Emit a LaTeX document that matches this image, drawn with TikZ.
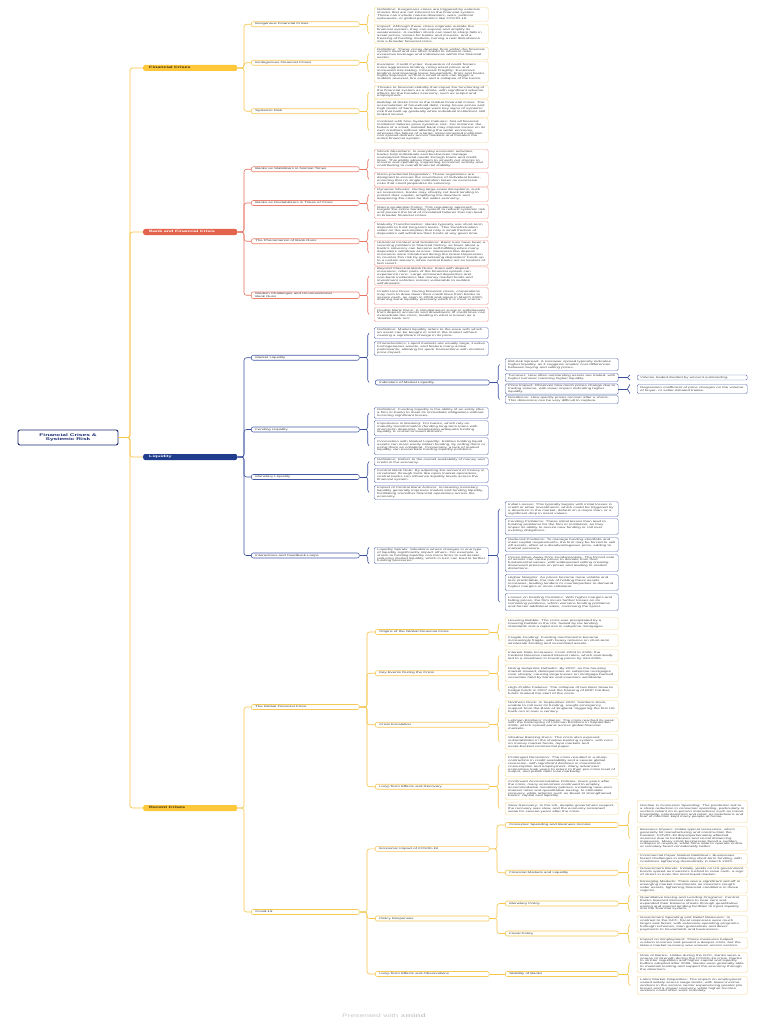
\documentclass[tikz,border=0pt]{standalone}
\usepackage{fontspec}
\setmainfont{Liberation Sans}
\usetikzlibrary{decorations.pathreplacing}
\definecolor{ybar}{HTML}{FFC83A}
\definecolor{ybartxt}{HTML}{3A2E10}
\definecolor{yline}{HTML}{F7C548}
\definecolor{ybox}{HTML}{F5C955}
\definecolor{yleaf}{HTML}{F8DA8E}
\definecolor{rbar}{HTML}{E4634C}
\definecolor{rline}{HTML}{E8735F}
\definecolor{rbox}{HTML}{EA7E6D}
\definecolor{rleaf}{HTML}{EE9C8F}
\definecolor{nbar}{HTML}{1F3D8C}
\definecolor{nline}{HTML}{3B519F}
\definecolor{nbox}{HTML}{4558A6}
\definecolor{nleaf}{HTML}{6272B4}
\definecolor{rootc}{HTML}{1A2B73}
\definecolor{leaftxt}{HTML}{444444}
\definecolor{labtxt}{HTML}{333333}
\definecolor{footc}{HTML}{C8C8C8}
\newcommand\Lf[2]{\scalebox{1}[0.58]{\parbox{#1pt}{\raggedright\fontsize{4.3pt}{5pt}\selectfont #2}}}
\newcommand\Bt[1]{\scalebox{1}[0.58]{\parbox{82pt}{\bfseries\fontsize{5.4pt}{6pt}\selectfont #1}}}
\newcommand\brc[5]{%
  \draw[#1,decorate,decoration={brace,amplitude=2.5pt}] (B#5 |- #4.center) -- (B#5 |- #3.center);
  \draw[#1] (#2.east) -- (T#5 |- #2.east);}
\newcommand\brs[4]{%
  \draw[#1,decorate,decoration={brace,amplitude=2.5pt}] (B#4 |- #3.south) -- (B#4 |- #3.north);
  \draw[#1] (#2.east) -- (T#4 |- #2.east);}
\newcommand\elb[4]{%
  \draw[#1,rounded corners=2.5pt] (#2.east) -- (E#4 |- #2.east) |- (#3.west);}
\begin{document}
\begin{tikzpicture}[x=1pt,y=-1pt,
  leaf/.style={rectangle,rounded corners=1.3pt,fill=white,line width=0.45pt,inner xsep=3pt,inner ysep=1pt,anchor=west,text=leaftxt},
  lY/.style={leaf,draw=yleaf},
  lR/.style={leaf,draw=rleaf},
  lN/.style={leaf,draw=nleaf},
  lab/.style={rectangle,rounded corners=2pt,fill=white,line width=0.55pt,inner xsep=4pt,inner ysep=0.9pt,anchor=west,text=labtxt,minimum height=5pt},
  bY/.style={lab,draw=ybox},
  bR/.style={lab,draw=rbox},
  bN/.style={lab,draw=nbox},
  bar/.style={rectangle,rounded corners=2pt,anchor=west,minimum height=6pt,inner xsep=6pt,inner ysep=0.5pt},
  rootbox/.style={rectangle,draw=rootc,line width=0.9pt,rounded corners=2pt,fill=white,minimum width=100pt,minimum height=15pt,inner sep=1pt,text=rootc},
  cY/.style={yline,line width=0.6pt},
  cR/.style={rline,line width=0.6pt},
  cN/.style={nline,line width=0.6pt},
  trk/.style={yline,line width=0.7pt}]
\useasboundingbox[fill=white] (0,0) rectangle (768,1024);
\coordinate (E0) at (130,0);
\coordinate (E1) at (244,0);
\coordinate (E2) at (367,0);
\coordinate (E3) at (497,0);
\coordinate (B2) at (369,0);
\coordinate (T2) at (366.5,0);
\coordinate (B3) at (499.5,0);
\coordinate (T3) at (497,0);
\coordinate (B4) at (630,0);
\coordinate (T4) at (627.5,0);

% root
\node[rootbox] (root) at (68,437.5) {\scalebox{1}[0.58]{\parbox{92pt}{\centering\bfseries\fontsize{6.6pt}{7.6pt}\selectfont Financial Crises \&\\Systemic Risk}}};

% main topics
\node[bar,fill=ybar,text=ybartxt] (fc) at (143,68) {\Bt{Financial Crises}};
\node[bar,fill=rbar,text=white] (bk) at (143,232) {\Bt{Bank and Financial Crisis}};
\node[bar,fill=nbar,text=white] (lq) at (143,457) {\Bt{Liquidity}};
\node[bar,fill=ybar,text=ybartxt] (rc) at (143,808) {\Bt{Recent Crises}};

% level 2
\node[bY] (ex) at (251,24.25) {\Lf{100}{Exogenous Financial Crises}};
\node[bY] (en) at (251,62.75) {\Lf{100}{Endogenous Financial Crises}};
\node[bY] (sy) at (251,111.25) {\Lf{100}{Systemic Risk}};
\node[bR] (bs) at (251,169.25) {\Lf{100}{Banks as Stabilizers in Normal Times}};
\node[bR] (bd) at (251,203) {\Lf{100}{Banks as Destabilizers in Times of Crisis}};
\node[bR] (br) at (251,241.25) {\Lf{100}{The Phenomenon of Bank Runs}};
\node[bR] (bm) at (251,295.25) {\Lf{100}{Modern Challenges and Unconventional\\Bank Runs}};
\node[bN] (ml) at (251,357.75) {\Lf{100}{Market Liquidity}};
\node[bN] (fl) at (251,429.5) {\Lf{100}{Funding Liquidity}};
\node[bN] (mo) at (251,477) {\Lf{100}{Monetary Liquidity}};
\node[bN] (ia) at (251,555.5) {\Lf{100}{Interactions and Feedback Loops}};
\node[bY] (gfc) at (251,707) {\Lf{100}{The Global Financial Crisis}};
\node[bY] (cov) at (251,912) {\Lf{100}{Covid-19}};

% Financial crises leaves
\node[lY,minimum height=14pt] (ex1) at (374,14.5) {\Lf{108}{Definition: Exogenous crises are triggered by external shocks that are not inherent to the financial system. These can include natural disasters, wars, political upheavals, or global pandemics like COVID-19.}};
\node[lY,minimum height=19pt] (ex2) at (374,34) {\Lf{108}{Impact: Although these crises originate outside the financial system, they can expose and amplify its weaknesses. A sudden shock can lead to sharp falls in asset prices, losses for banks and insurers, and a freezing of funding markets, turning a real disturbance into a broader financial crisis.}};
\node[lY,minimum height=12pt] (en1) at (374,53.5) {\Lf{108}{Definition: These crises develop from within the financial system itself and are often linked to inherent risks, excessive leverage and imbalances within the financial sector.}};
\node[lY,minimum height=21pt] (en2) at (374,72) {\Lf{108}{Example: Credit Cycles: Expansion of credit fosters more aggressive lending, rising asset prices and increased risk-taking. Financial Fragility: Excessive lending and leverage leave households, firms and banks highly exposed, so that a small shock can trigger a sudden reversal, fire sales and a collapse of the boom.}};
\node[lY,minimum height=13pt] (sy1) at (374,92) {\Lf{108}{Threats to financial stability that impair the functioning of the financial system as a whole, with significant adverse effects for the broader economy, such as output and employment.}};
\node[lY,minimum height=18pt] (sy2) at (374,108.5) {\Lf{108}{Buildup of Risks Prior to the Global Financial Crisis: The accumulation of household debt, rising house prices and high levels of bank leverage were key signs of systemic risk that built up gradually while individual institutions still looked sound.}};
\node[lY,minimum height=24pt] (sy3) at (374,130.5) {\Lf{108}{Contrast with Non-Systemic Failures: Not all financial institution failures pose systemic risk. For instance, the failure of a small, isolated bank may impose losses on its own creditors without affecting the wider economy, whereas the failure of a large, interconnected institution can spread distress across markets and threaten the entire financial system.}};

% Bank leaves
\node[lR,minimum height=19pt] (bs1) at (374,159) {\Lf{108}{Shock Absorbers: In everyday economic activities, banks help individuals and businesses manage unexpected financial needs through loans and credit lines. This ability allows them to smooth out shocks to income and spending, supporting economic activity and contributing to overall financial stability.}};
\node[lR,minimum height=14pt] (bs2) at (374,179.5) {\Lf{108}{Micro-prudential Regulation: These regulations are designed to ensure the soundness of individual banks, ensuring that no single institution takes on excessive risks that could jeopardize its solvency.}};
\node[lR,minimum height=14pt] (bd1) at (374,194.5) {\Lf{108}{Dynamic Shocks: During large-scale disruptions, such as recessions, banks may sharply cut back lending to protect their capital, amplifying the downturn and deepening the crisis for the wider economy.}};
\node[lR,minimum height=14pt] (bd2) at (374,211.5) {\Lf{108}{Macro-prudential Policy: This regulatory approach targets the entire banking system to reduce systemic risk and prevent the kind of correlated failures that can lead to broader financial crises.}};
\node[lR,minimum height=16pt] (br1) at (374,229.5) {\Lf{108}{Maturity Transformation: Banks typically use short-term deposits to fund long-term loans. This transformation relies on the assumption that only a small fraction of depositors will withdraw their funds at any given time.}};
\node[lR,minimum height=25pt] (br2) at (374,253) {\Lf{108}{Historical Context and Solutions: Bank runs have been a recurring problem in financial history, as fears about a bank's solvency can become self-fulfilling when many depositors withdraw at once. Measures like deposit insurance were introduced during the Great Depression to counter this risk by guaranteeing depositors' funds up to a certain amount, while central banks act as lenders of last resort.}};
\node[lR,minimum height=17pt] (bm1) at (374,276) {\Lf{108}{Beyond Classical Bank Runs: Even with deposit insurance, other parts of the financial system can experience runs. Large uninsured depositors and non-bank institutions like money market funds and investment vehicles remain vulnerable to sudden withdrawals.}};
\node[lR,minimum height=17pt] (bm2) at (374,296) {\Lf{108}{Credit Line Runs: During financial crises, corporations may rush to draw down their credit lines from banks to secure cash, as seen in 2008 and again in March 2020, draining bank liquidity precisely when it is most scarce.}};
\node[lR,minimum height=14pt] (bm3) at (374,314.5) {\Lf{108}{Double Bank Runs: A simultaneous surge in withdrawals from deposit accounts and drawdowns of credit lines can exacerbate the crisis, leading to what is known as a `double bank run'.}};

% Liquidity leaves
\node[lN,minimum height=11pt] (ml1) at (374,333) {\Lf{108}{Definition: Market liquidity refers to the ease with which an asset can be bought or sold in the market without causing a significant change in its price.}};
\node[lN,minimum height=14pt] (ml2) at (374,348.5) {\Lf{108}{Characteristics: Liquid markets are usually large, involve homogeneous assets, and feature many active participants, allowing for quick transactions with minimal price impact.}};
\node[bN] (ind) at (375,382.5) {\Lf{106}{Indicators of Market Liquidity}};
\node[lN,minimum height=12pt] (ib) at (505,364.5) {\Lf{107}{Bid-Ask Spread: A narrower spread typically indicates higher liquidity, as it suggests smaller cost differences between buying and selling prices.}};
\node[lN,minimum height=8pt] (it) at (505,377.5) {\Lf{107}{Turnover: How often outstanding assets are traded, with higher turnover meaning higher liquidity.}};
\node[lN,minimum height=9pt] (ip) at (505,389) {\Lf{107}{Price Impact: Observes how much prices change due to trading volume, with lower impact indicating higher liquidity.}};
\node[lN,minimum height=8pt] (iav) at (505,399.5) {\Lf{107}{Resilience: How quickly prices recover after a shock. This dimension can be very difficult to capture.}};
\node[lN,minimum height=5pt] (it1) at (637,377.5) {\Lf{104}{Volume traded divided by amount outstanding.}};
\node[lN,minimum height=9pt] (ip1) at (637,389) {\Lf{104}{Regression coefficient of price changes on the volume of buyer- or seller-initiated trades.}};
\node[lN,minimum height=11pt] (fl1) at (374,413) {\Lf{108}{Definition: Funding liquidity is the ability of an entity (like a firm or bank) to meet its immediate obligations without incurring significant losses.}};
\node[lN,minimum height=15pt] (fl2) at (374,428) {\Lf{108}{Importance in Banking: For banks, which rely on maturity transformation (funding long-term loans with short-term deposits), maintaining adequate funding liquidity is crucial to avoid distress.}};
\node[lN,minimum height=17pt] (fl3) at (374,446) {\Lf{108}{Connection with Market Liquidity: Entities holding liquid assets can more easily obtain funding, by selling them or using them as collateral. Conversely, a lack of market liquidity can exacerbate funding liquidity problems.}};
\node[lN,minimum height=8pt] (mo1) at (374,461.5) {\Lf{108}{Definition: Refers to the overall availability of money and credit in the economy.}};
\node[lN,minimum height=14pt] (mo2) at (374,475.5) {\Lf{108}{Central Bank Role: By adjusting the amount of money in circulation through tools like open market operations, central banks can influence liquidity levels across the financial system.}};
\node[lN,minimum height=14pt] (mo3) at (374,492.5) {\Lf{108}{Impact of Central Bank Actions: Increasing monetary liquidity generally improves market and funding liquidity, facilitating smoother financial operations across the economy.}};
\node[lN,minimum height=16pt] (ls) at (374,555.5) {\Lf{108}{Liquidity Spirals: Situations where changes in one type of liquidity significantly impact others. For example, a shock to funding liquidity can force firms to sell assets, reducing market liquidity, which in turn can lead to further funding pressures.}};
\node[lN,minimum height=15pt] (l1) at (505,509) {\Lf{107}{Initial Losses: This typically begins with initial losses in credit or other investments, which could be triggered by a downturn in the market, default on a major loan, or a significant drop in asset values.}};
\node[lN,minimum height=16pt] (l2) at (505,526.5) {\Lf{107}{Funding Problems: These initial losses then lead to funding problems for the firm or institution, as they impair its ability to secure new funding or roll over existing obligations.}};
\node[lN,minimum height=14pt] (l3) at (505,544.5) {\Lf{107}{Reduced Positions: To manage funding shortfalls and meet capital requirements, the firm may be forced to sell off assets, often at a disadvantageous price, adding to market pressure.}};
\node[lN,minimum height=17pt] (l4) at (505,563) {\Lf{107}{Prices Move Away from Fundamentals: The forced sale of assets can cause prices to deviate from their fundamental values, with widespread selling creating downward pressure on prices and leading to market distortions.}};
\node[lN,minimum height=16pt] (l5) at (505,582.5) {\Lf{107}{Higher Margins: As prices become more volatile and less predictable, the risk of holding these assets increases, leading lenders or counterparties to demand higher margins or more collateral.}};
\node[lN,minimum height=17pt] (l6) at (505,602) {\Lf{107}{Losses on Existing Positions: With higher margins and falling prices, the firm incurs further losses on its remaining positions, which worsens funding problems and forces additional sales, continuing the spiral.}};

% GFC
\node[bY] (orig) at (375,632) {\Lf{106}{Origins of the Global Financial Crisis}};
\node[bY] (key) at (375,673.25) {\Lf{106}{Key Events During the Crisis}};
\node[bY] (esc) at (375,724.75) {\Lf{106}{Crisis Escalation}};
\node[bY] (ltr) at (375,786.75) {\Lf{106}{Long-Term Effects and Recovery}};
\node[lY,minimum height=12pt] (hb) at (505,623.5) {\Lf{107}{Housing Bubble: The crisis was precipitated by a housing bubble in the US, fueled by lax lending standards and a rapid rise in subprime mortgages.}};
\node[lY,minimum height=12pt] (ff) at (505,640.5) {\Lf{107}{Fragile Funding: Funding mechanisms became increasingly fragile, with heavy reliance on short-term wholesale funding and securitised assets.}};
\node[lY,minimum height=12pt] (ir) at (505,655.5) {\Lf{107}{Interest Rate Increases: From 2004 to 2006, the Federal Reserve raised interest rates, which eventually led to a slowdown in housing prices by mid-2006.}};
\node[lY,minimum height=17pt] (rs) at (505,673) {\Lf{107}{Rising Subprime Defaults: By 2007, as the housing market slowed, delinquencies on subprime mortgages rose sharply, causing large losses on mortgage-backed securities held by banks and investors worldwide.}};
\node[lY,minimum height=13pt] (hp) at (505,691) {\Lf{107}{High-Profile Failures: The collapse of two Bear Stearns hedge funds in 2007 and the freezing of BNP Paribas funds marked the start of the crisis.}};
\node[lY,minimum height=14pt] (nr) at (505,707.5) {\Lf{107}{Northern Rock: In September 2007, Northern Rock, unable to roll over its funding, sought emergency support from the Bank of England, triggering the first UK bank run in over a century.}};
\node[lY,minimum height=14pt] (lb) at (505,724.5) {\Lf{107}{Lehman Brothers' Collapse: The crisis reached its peak with the bankruptcy of Lehman Brothers in September 2008, which spread panic across global financial markets.}};
\node[lY,minimum height=15pt] (sb) at (505,742) {\Lf{107}{Shadow Banking Runs: The crisis also exposed vulnerabilities in the shadow banking system, with runs on money market funds, repo markets and asset-backed commercial paper.}};
\node[lY,minimum height=23pt] (pr) at (505,765) {\Lf{107}{Prolonged Recession: The crisis resulted in a sharp contraction in credit availability and a severe global recession, with significant declines in investment, consumption and employment. Many advanced economies took years to return to their pre-crisis level of output, and public debt rose markedly.}};
\node[lY,minimum height=21pt] (ca) at (505,789) {\Lf{107}{Continued Accommodative Policies: Even years after the crisis, many economies continued to employ accommodative monetary policies, including near-zero interest rates and quantitative easing, to stimulate recovery, while reforms such as Basel III strengthened banks' capital and liquidity.}};
\node[lY,minimum height=12pt] (sr) at (505,808.5) {\Lf{107}{Slow Recovery: In the US, despite government support, the recovery was slow, and the economy remained weak for several years after the crisis.}};

% Covid
\node[bY] (eco) at (375,848.9) {\Lf{106}{Economic Impact of COVID-19}};
\node[bY] (pol) at (375,918.5) {\Lf{106}{Policy Responses}};
\node[bY] (lto) at (375,974) {\Lf{106}{Long-Term Effects and Observations}};
\node[bY] (cons) at (505,825) {\Lf{105}{Consumer Spending and Business Income}};
\node[bY] (fin) at (505,872.75) {\Lf{105}{Financial Markets and Liquidity}};
\node[bY] (mon) at (505,903.5) {\Lf{105}{Monetary Policy}};
\node[bY] (fis) at (505,933.5) {\Lf{105}{Fiscal Policy}};
\node[bY] (stab) at (505,974) {\Lf{105}{Stability of Banks}};
\node[lY,minimum height=22pt] (dc) at (637,811.5) {\Lf{104}{Decline in Consumer Spending: The pandemic led to a sharp reduction in consumer spending, particularly in sectors reliant on in-person interactions such as travel, hospitality, entertainment and retail, as lockdowns and fear of infection kept many people at home.}};
\node[lY,minimum height=24pt] (bi) at (637,838.5) {\Lf{104}{Business Impact: Unlike typical recessions, which generally hit manufacturing and construction the hardest, COVID-19 disproportionately affected services due to lockdowns and social distancing measures. Many small businesses faced a sudden collapse in revenue, while firms able to operate online or remotely fared considerably better.}};
\node[lY,minimum height=11pt] (cp) at (637,859) {\Lf{104}{Commercial Paper Market Meltdown: Businesses faced challenges in obtaining short-term funding, with conditions tightening dramatically in March 2020.}};
\node[lY,minimum height=11pt] (gb) at (637,872) {\Lf{104}{Government Bonds: Initially, yields on US government bonds spiked as investors rushed to raise cash, a sign of stress in even the most liquid market.}};
\node[lY,minimum height=12pt] (em) at (637,886.5) {\Lf{104}{Emerging Markets: There was a significant sell-off in emerging market investments as investors sought safer assets, tightening financial conditions in these regions.}};
\node[lY,minimum height=16pt] (qe) at (637,903.5) {\Lf{104}{Quantitative Easing and Lending Programs: Central banks lowered interest rates to near zero and expanded their balance sheets through quantitative easing and special lending facilities to inject liquidity into the financial system.}};
\node[lY,minimum height=17pt] (gs) at (637,924) {\Lf{104}{Government Spending and Relief Measures: In contrast to the GFC, fiscal responses were much larger and faster, with extensive spending programs, furlough schemes, loan guarantees and direct payments to households and businesses.}};
\node[lY,minimum height=11pt] (ie) at (637,943) {\Lf{104}{Impact on Employment: These measures helped cushion incomes and prevent a deeper crisis, but the labour market recovery was uneven across sectors.}};
\node[lY,minimum height=20pt] (rb) at (637,962.5) {\Lf{104}{Role of Banks: Unlike during the GFC, banks were a source of strength during the COVID-19 crisis, thanks to stricter regulation and higher capital and liquidity buffers adopted after 2008. Banks were generally able to maintain lending and support the economy through the downturn.}};
\node[lY,minimum height=18pt] (lm) at (637,985.5) {\Lf{104}{Labor Market Disparities: The impact on employment varied widely across wage levels, with lower-income workers in the service sector experiencing greater job losses and a slower recovery, while higher-income workers could often work remotely.}};

% footer
\node[text=footc] (foot) at (384,1016) {\scalebox{1}[0.58]{\fontsize{8.5pt}{10pt}\selectfont Presented with \textbf{xmind}}};

% connectors: trunk
\elb{trk}{root}{fc}{0}
\elb{trk}{root}{bk}{0}
\elb{trk}{root}{lq}{0}
\elb{trk}{root}{rc}{0}
% level 1 -> 2
\elb{cY}{fc}{ex}{1}
\elb{cY}{fc}{en}{1}
\elb{cY}{fc}{sy}{1}
\elb{cR}{bk}{bs}{1}
\elb{cR}{bk}{bd}{1}
\elb{cR}{bk}{br}{1}
\elb{cR}{bk}{bm}{1}
\elb{cN}{lq}{ml}{1}
\elb{cN}{lq}{fl}{1}
\elb{cN}{lq}{mo}{1}
\elb{cN}{lq}{ia}{1}
\elb{cY}{rc}{gfc}{1}
\elb{cY}{rc}{cov}{1}
% level 2 -> 3
\brc{cY}{ex}{ex1}{ex2}{2}
\brc{cY}{en}{en1}{en2}{2}
\brc{cY}{sy}{sy1}{sy3}{2}
\brc{cR}{bs}{bs1}{bs2}{2}
\brc{cR}{bd}{bd1}{bd2}{2}
\brc{cR}{br}{br1}{br2}{2}
\brc{cR}{bm}{bm1}{bm3}{2}
\brc{cN}{ml}{ml1}{ind}{2}
\brc{cN}{fl}{fl1}{fl3}{2}
\brc{cN}{mo}{mo1}{mo3}{2}
\brs{cN}{ia}{ls}{2}
\elb{cY}{gfc}{orig}{2}
\elb{cY}{gfc}{key}{2}
\elb{cY}{gfc}{esc}{2}
\elb{cY}{gfc}{ltr}{2}
\elb{cY}{cov}{eco}{2}
\elb{cY}{cov}{pol}{2}
\elb{cY}{cov}{lto}{2}
% level 3 -> 4
\brc{cN}{ind}{ib}{iav}{3}
\brc{cN}{ls}{l1}{l6}{3}
\brc{cY}{orig}{hb}{ff}{3}
\brc{cY}{key}{ir}{hp}{3}
\brc{cY}{esc}{nr}{sb}{3}
\brc{cY}{ltr}{pr}{sr}{3}
\elb{cY}{eco}{cons}{3}
\elb{cY}{eco}{fin}{3}
\elb{cY}{pol}{mon}{3}
\elb{cY}{pol}{fis}{3}
\draw[cY] (lto.east) -- (stab.west);
% level 4 -> 5
\brs{cN}{it}{it1}{4}
\brs{cN}{ip}{ip1}{4}
\brc{cY}{cons}{dc}{bi}{4}
\brc{cY}{fin}{cp}{em}{4}
\brs{cY}{mon}{qe}{4}
\brc{cY}{fis}{gs}{ie}{4}
\brc{cY}{stab}{rb}{lm}{4}
\end{tikzpicture}
\end{document}
